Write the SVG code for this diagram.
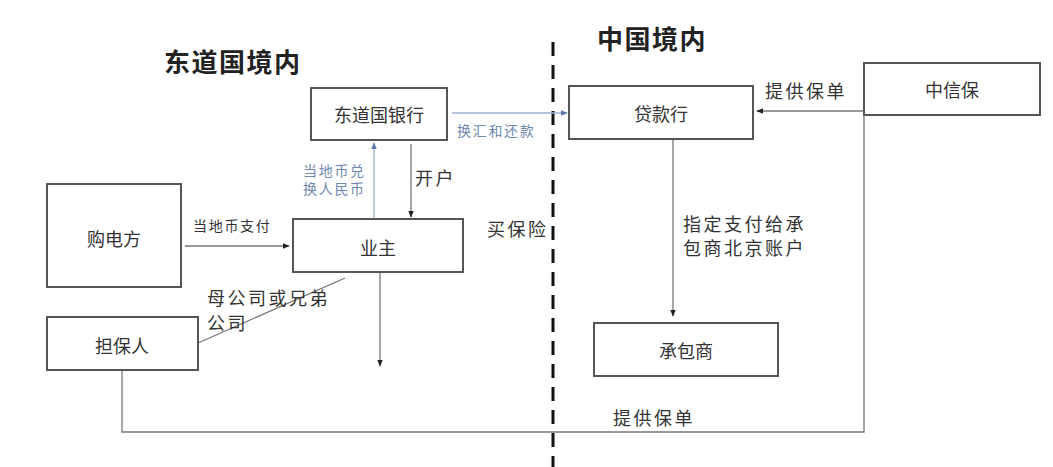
<svg xmlns="http://www.w3.org/2000/svg" width="1053" height="467" viewBox="0 0 1053 467">
<defs>
<style>
text{font-family:"Noto Sans CJK SC","Noto Sans",sans-serif;fill:#333;dominant-baseline:central}
.box{fill:#fff;stroke:#555;stroke-width:2}
.bl{font-size:18px;text-anchor:middle}
.lbl{font-size:18px;letter-spacing:2.5px}
.sm{font-size:14px;letter-spacing:1.7px}
.blue{fill:#6f88ad}
.ln{fill:none;stroke:#777;stroke-width:1.3}
.lnb{fill:none;stroke:#9fb2cf;stroke-width:1.3}
.title{font-size:26px;font-weight:bold;letter-spacing:1.5px;fill:#222}
</style>
<marker id="ah" viewBox="0 0 10 10" refX="9" refY="5" markerWidth="7" markerHeight="7" orient="auto" markerUnits="userSpaceOnUse"><path d="M0,1 L10,5 L0,9 z" fill="#222"/></marker>
<marker id="ahb" viewBox="0 0 10 10" refX="9" refY="5" markerWidth="7" markerHeight="7" orient="auto" markerUnits="userSpaceOnUse"><path d="M0,1 L10,5 L0,9 z" fill="#5b78a8"/></marker>
</defs>
<rect width="1053" height="467" fill="#fff"/>
<text class="title" x="164" y="60">东道国境内</text>
<text class="title" x="597" y="37">中国境内</text>
<line x1="553" y1="42" x2="553" y2="467" stroke="#111" stroke-width="3" stroke-dasharray="14,9"/>
<g id="connectors">
<line class="lnb" x1="452" y1="113" x2="567" y2="113" marker-end="url(#ahb)"/>
<line class="lnb" x1="374" y1="218" x2="374" y2="143" marker-end="url(#ahb)"/>
<line class="ln" x1="411" y1="144" x2="411" y2="217" marker-end="url(#ah)"/>
<line class="ln" x1="185" y1="246" x2="289" y2="246" marker-end="url(#ah)"/>
<line class="ln" x1="198" y1="343" x2="345" y2="278"/>
<line class="ln" x1="380" y1="273" x2="380" y2="366" marker-end="url(#ah)"/>
<line class="ln" x1="864" y1="111" x2="757" y2="111" marker-end="url(#ah)"/>
<line class="ln" x1="673" y1="140" x2="673" y2="316" marker-end="url(#ah)"/>
<polyline class="ln" points="864,115 864,432 122,432 122,370"/>
<text class="sm blue" x="457" y="130">换汇和还款</text>
<text class="sm blue" x="303" y="170">当地币兑</text>
<text class="sm blue" x="303" y="188">换人民币</text>
<text class="lbl" x="415" y="177">开户</text>
<text class="sm" x="193" y="225">当地币支付</text>
<text class="lbl" x="207" y="297">母公司或兄弟</text>
<text class="lbl" x="207" y="322">公司</text>
<text class="lbl" x="487" y="228">买保险</text>
<text class="lbl" x="765" y="90">提供保单</text>
<text class="lbl" x="683" y="223">指定支付给承</text>
<text class="lbl" x="683" y="247">包商北京账户</text>
<text class="lbl" x="613" y="417">提供保单</text>
</g>
<g id="bank-host"><rect class="box" x="311" y="88" width="136" height="52"/><text class="bl" x="379" y="114">东道国银行</text></g>
<g id="buyer"><rect class="box" x="47" y="184" width="134" height="103"/><text class="bl" x="114" y="238">购电方</text></g>
<g id="owner"><rect class="box" x="293" y="219" width="170" height="53"/><text class="bl" x="378" y="247">业主</text></g>
<g id="guarantor"><rect class="box" x="47" y="317" width="151" height="53"/><text class="bl" x="122" y="345">担保人</text></g>
<g id="lender"><rect class="box" x="569" y="86" width="184" height="53"/><text class="bl" x="661" y="113">贷款行</text></g>
<g id="sinosure"><rect class="box" x="864" y="63" width="176" height="52"/><text class="bl" x="952" y="89">中信保</text></g>
<g id="contractor"><rect class="box" x="594" y="323" width="184" height="53"/><text class="bl" x="686" y="350">承包商</text></g>
</svg>
